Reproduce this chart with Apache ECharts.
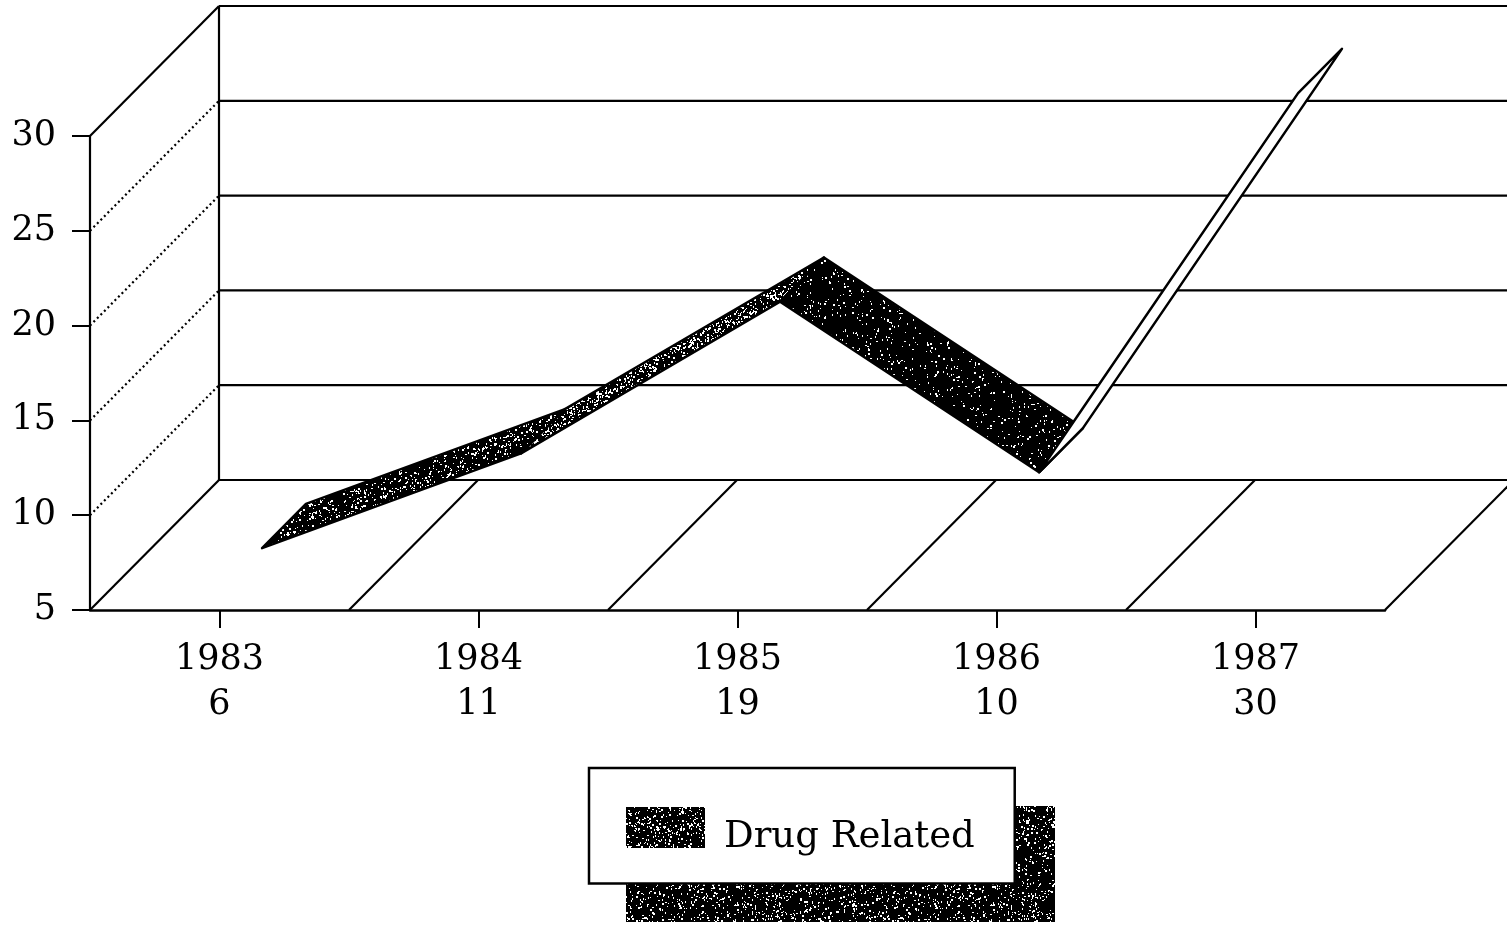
<!DOCTYPE html>
<html>
<head>
<meta charset="utf-8">
<title>Drug Related</title>
<style>
	html, body { margin: 0; padding: 0; background: #fff; overflow: hidden; }
	#chart { width: 1507px; height: 925px; }
</style>
<script src="https://cdn.jsdelivr.net/npm/echarts@6/dist/echarts.min.js"></script>
</head>
<body>
<div id="chart"></div>
<script>
var years = ['1983', '1984', '1985', '1986', '1987'];
var drugRelated = [6, 11, 19, 10, 30];
var yTicks = [5, 10, 15, 20, 25, 30];
var seriesName = 'Drug Related';

var FONT = '"DejaVu Serif"';
// depth of the fake 3d box, in pixels
var DEPTH_X = 129;
var DEPTH_Y = 130;
// the ribbon sits in the middle third of the depth
var RIBBON_FRONT = 0.33;
var RIBBON_BACK = 0.67;

// black fill with white specks, like the halftone of the scan
function speckle(amount) {
	var size = 256;
	var canvas = document.createElement('canvas');
	canvas.width = size;
	canvas.height = size;
	var ctx = canvas.getContext('2d');
	ctx.fillStyle = '#000';
	ctx.fillRect(0, 0, size, size);
	ctx.fillStyle = '#fff';
	var seed = 2463534242;
	function next() {
		seed ^= seed << 13;
		seed ^= seed >>> 17;
		seed ^= seed << 5;
		return seed >>> 0;
	}
	var count = size * size * amount / 2;
	for (var i = 0; i < count; i++) {
		var x = next() % size;
		var y = next() % size;
		ctx.fillRect(x, y, 1 + (i % 3 == 0 ? 1 : 0), 1 + (i % 2));
	}
	return { image: canvas, repeat: 'repeat' };
}

var segmentFills = [speckle(0.14), speckle(0.3), speckle(0.05), '#fff'];
var legendFill = speckle(0.16);
var shadowFill = speckle(0.13);

function line(x1, y1, x2, y2, dash) {
	return {
		type: 'line',
		shape: { x1: x1, y1: y1, x2: x2, y2: y2 },
		style: { stroke: '#000', lineWidth: 2.2, lineDash: dash || null }
	};
}

// back wall lines and the dotted lines on the side wall
function renderWall(params, api) {
	var p = api.coord([0, api.value(0)]);
	var band = api.size([1, 0])[0];
	var x0 = p[0] - band / 2;
	var y0 = p[1];
	var v = api.value(0);
	var isEnd = v == yTicks[0] || v == yTicks[yTicks.length - 1];
	return {
		type: 'group',
		children: [
			line(x0, y0, x0 + DEPTH_X, y0 - DEPTH_Y, isEnd ? null : [2, 3]),
			line(x0 + DEPTH_X, y0 - DEPTH_Y, api.getWidth(), y0 - DEPTH_Y)
		]
	};
}

// floor lines on the category boundaries, plus the back vertical once
function renderFloor(params, api) {
	var i = api.value(0);
	var p = api.coord([i, yTicks[0]]);
	var band = api.size([1, 0])[0];
	var x0 = p[0] + band / 2;
	var children = [line(x0, p[1], x0 + DEPTH_X, p[1] - DEPTH_Y)];
	if (i == 0) {
		var top = api.coord([0, yTicks[yTicks.length - 1]]);
		var wallX = p[0] - band / 2 + DEPTH_X;
		children.push(line(wallX, top[1] - DEPTH_Y, wallX, p[1] - DEPTH_Y));
	}
	return { type: 'group', children: children };
}

function renderRibbon(params, api) {
	var a = api.coord([api.value(0), api.value(1)]);
	var b = api.coord([api.value(0) + 1, api.value(2)]);
	return {
		type: 'polygon',
		shape: {
			points: [
				[a[0] + DEPTH_X * RIBBON_FRONT, a[1] - DEPTH_Y * RIBBON_FRONT],
				[a[0] + DEPTH_X * RIBBON_BACK, a[1] - DEPTH_Y * RIBBON_BACK],
				[b[0] + DEPTH_X * RIBBON_BACK, b[1] - DEPTH_Y * RIBBON_BACK],
				[b[0] + DEPTH_X * RIBBON_FRONT, b[1] - DEPTH_Y * RIBBON_FRONT]
			]
		},
		style: { fill: segmentFills[params.dataIndex], stroke: '#000', lineWidth: 2.5, lineJoin: 'round' }
	};
}

var chart = echarts.init(document.getElementById('chart'));

var option = {
	animation: false,
	backgroundColor: '#fff',
	grid: { left: 90, right: 122, top: 136, bottom: 315 },
	xAxis: {
		type: 'category',
		data: years,
		axisLine: { lineStyle: { color: '#000', width: 2.5 } },
		axisTick: { show: true, alignWithLabel: true, length: 18, lineStyle: { color: '#000', width: 2 } },
		axisLabel: {
			color: '#000',
			fontFamily: FONT,
			fontSize: 35,
			lineHeight: 45,
			margin: 27,
			formatter: function(value, index) {
				return value + '\n' + drugRelated[index];
			}
		},
		splitLine: { show: false }
	},
	yAxis: {
		type: 'value',
		min: 5,
		max: 30,
		interval: 5,
		axisLine: { show: true, lineStyle: { color: '#000', width: 2.2 } },
		axisTick: { show: true, length: 18, lineStyle: { color: '#000', width: 2 } },
		axisLabel: { color: '#000', fontFamily: FONT, fontSize: 35, margin: 34 },
		splitLine: { show: false }
	},
	legend: {
		data: [{ name: seriesName, itemStyle: { color: legendFill } }],
		left: 589,
		top: 768,
		orient: 'horizontal',
		icon: 'rect',
		itemWidth: 79,
		itemHeight: 41,
		padding: [39, 40, 28, 37],
		backgroundColor: '#fff',
		borderColor: '#000',
		borderWidth: 2.5,
		borderRadius: 0,
		formatter: '{a|{name}}',
		textStyle: {
			color: '#000',
			fontFamily: FONT,
			fontSize: 37,
			rich: {
				// pushes the name a little below the swatch middle
				a: { color: '#000', fontFamily: FONT, fontSize: 37, padding: [19, 0, 0, 14] }
			}
		}
	},
	graphic: [{
		type: 'rect',
		z: 1,
		silent: true,
		shape: { x: 626, y: 806, width: 429, height: 116 },
		style: { fill: shadowFill }
	}],
	series: [{
		name: 'wall',
		type: 'custom',
		coordinateSystem: 'cartesian2d',
		silent: true,
		z: 1,
		renderItem: renderWall,
		encode: { y: 0 },
		data: yTicks.map(function(v) { return [v]; })
	}, {
		name: 'floor',
		type: 'custom',
		coordinateSystem: 'cartesian2d',
		silent: true,
		z: 1,
		renderItem: renderFloor,
		encode: { x: 0 },
		data: years.map(function(y, i) { return [i]; })
	}, {
		name: seriesName,
		type: 'custom',
		coordinateSystem: 'cartesian2d',
		silent: true,
		z: 3,
		renderItem: renderRibbon,
		encode: { x: 0, y: 1 },
		itemStyle: { color: '#333' },
		data: drugRelated.slice(0, -1).map(function(v, i) {
			return [i, v, drugRelated[i + 1]];
		})
	}]
};

chart.setOption(option);
</script>
</body>
</html>
